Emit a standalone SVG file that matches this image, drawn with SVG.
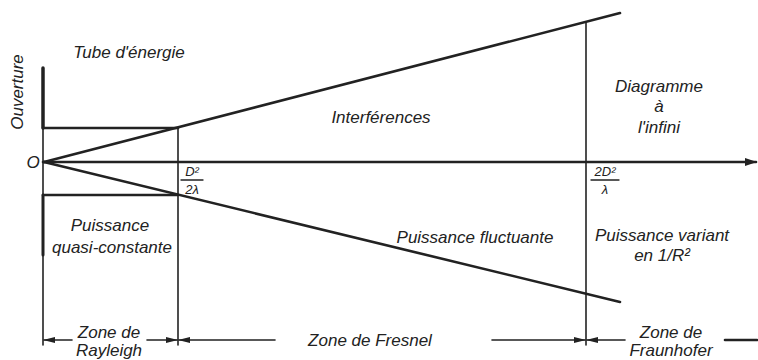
<svg xmlns="http://www.w3.org/2000/svg" width="758" height="360" viewBox="0 0 758 360">
<style>
text{font-family:"Liberation Sans",Arial,sans-serif;font-style:italic;font-size:17px;fill:#222}
.c{text-anchor:middle}
.f{font-size:13px}
.ln{stroke:#222;fill:none;stroke-linecap:round}
.thick{stroke-width:2.6}
.thin{stroke-width:1.6}
</style>
<defs>
<marker id="ah" viewBox="0 0 12 8" refX="11" refY="4" markerWidth="12" markerHeight="8" markerUnits="userSpaceOnUse" orient="auto-start-reverse">
<path d="M0,0 L12,4 L0,8 Z" fill="#222"/>
</marker>
<marker id="ad" viewBox="0 0 12 6" refX="11" refY="3" markerWidth="12" markerHeight="6" markerUnits="userSpaceOnUse" orient="auto-start-reverse">
<path d="M0,0 L12,3 L0,6 Z" fill="#222"/>
</marker>
</defs>
<g id="connectors">
<line class="ln thin" x1="43" y1="68" x2="43" y2="345"/>
<line class="ln" stroke-width="3.5" x1="43" y1="68" x2="43" y2="128"/>
<line class="ln" stroke-width="3" x1="43" y1="195" x2="43" y2="255"/>
<line class="ln thick" x1="43" y1="162" x2="756" y2="162" marker-end="url(#ah)"/>
<line class="ln thick" x1="43" y1="128" x2="178" y2="128"/>
<line class="ln thick" x1="43" y1="195" x2="178" y2="195"/>
<line class="ln thick" x1="44" y1="162" x2="620" y2="13"/>
<line class="ln thick" x1="44" y1="162" x2="620" y2="302"/>
<line class="ln thin" x1="178" y1="128" x2="178" y2="345"/>
<line class="ln thin" x1="586" y1="22" x2="586" y2="345"/>
<line class="ln thin" x1="72" y1="340" x2="44" y2="340" marker-end="url(#ad)"/>
<line class="ln thin" x1="147" y1="340" x2="177" y2="340" marker-end="url(#ad)"/>
<line class="ln thin" x1="275" y1="340" x2="179" y2="340" marker-end="url(#ad)"/>
<line class="ln thin" x1="492" y1="340" x2="585" y2="340" marker-end="url(#ad)"/>
<line class="ln thin" x1="625" y1="340" x2="587" y2="340" marker-end="url(#ad)"/>
<line class="ln" stroke-width="2.6" x1="725" y1="340" x2="757" y2="340"/>
<line class="ln" stroke-width="1.3" x1="181" y1="180" x2="203" y2="180"/>
<line class="ln" stroke-width="1.3" x1="591" y1="180" x2="619" y2="180"/>
</g>
<g id="axis-label"><text transform="translate(23,92) rotate(-90)" class="c">Ouverture</text></g>
<g id="origin"><text x="33" y="168" class="c">O</text></g>
<g id="tube"><text x="129" y="58" class="c">Tube d'énergie</text></g>
<g id="d2-2l"><text x="192" y="176" class="c f">D²</text><text x="192" y="194" class="c f">2λ</text></g>
<g id="2d2-l"><text x="605" y="176" class="c f">2D²</text><text x="605" y="194" class="c f">λ</text></g>
<g id="interferences"><text x="381" y="123" class="c">Interférences</text></g>
<g id="diagramme"><text x="659" y="92" class="c">Diagramme</text><text x="659" y="112" class="c">à</text><text x="659" y="133" class="c">l'infini</text></g>
<g id="quasi"><text x="110" y="231" class="c">Puissance</text><text x="112" y="253" class="c">quasi-constante</text></g>
<g id="fluctuante"><text x="475" y="243" class="c">Puissance fluctuante</text></g>
<g id="variant"><text x="662" y="241" class="c">Puissance variant</text><text x="662" y="261" class="c">en 1/R²</text></g>
<g id="rayleigh"><text x="109" y="338" class="c">Zone de</text><text x="109" y="356" class="c">Rayleigh</text></g>
<g id="fresnel"><text x="370" y="346" class="c">Zone de Fresnel</text></g>
<g id="fraunhofer"><text x="671" y="338" class="c">Zone de</text><text x="671" y="356" class="c">Fraunhofer</text></g>
</svg>
